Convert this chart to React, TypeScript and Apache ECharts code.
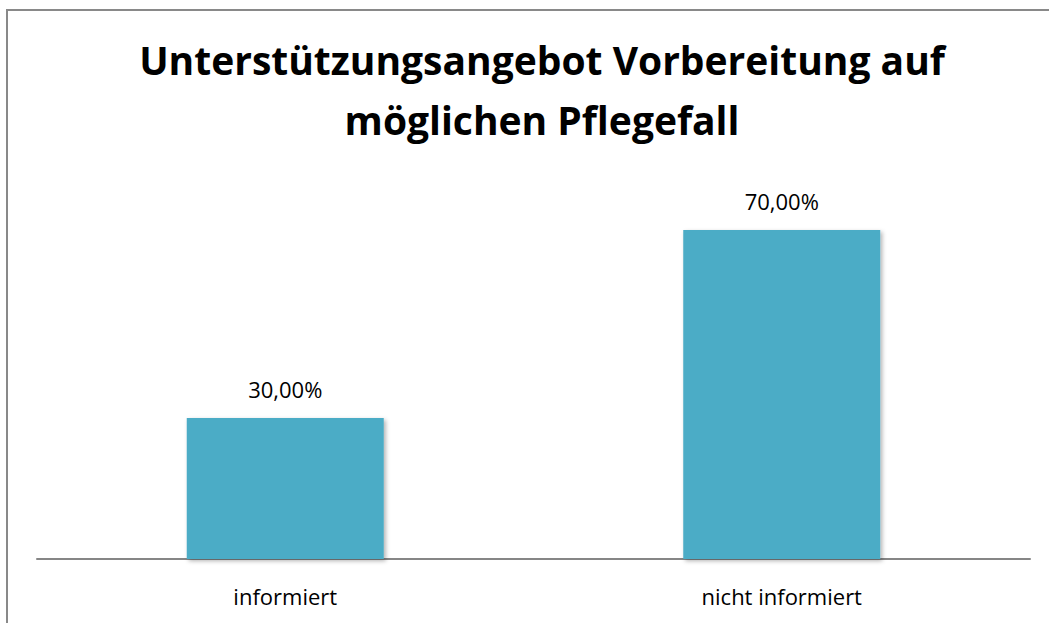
import React, { useEffect, useRef } from "react";
import * as echarts from "echarts";

const titleLines = ["Unterstützungsangebot Vorbereitung auf", "möglichen Pflegefall"];
const categories = ["informiert", "nicht informiert"];
const values = [30, 70];

export default function App() {
  const ref = useRef<HTMLDivElement>(null);
  useEffect(() => {
    document.body.style.margin = "0";
    if (!ref.current) return;
    const chart = echarts.init(ref.current, null, { renderer: "svg" });
    const font = "'Open Sans', 'Noto Sans', sans-serif";
    chart.setOption({
      animation: false,
      backgroundColor: "#ffffff",
      title: {
        text: titleLines.join("\n"),
        left: 537,
        top: 24,
        textAlign: "center",
        textStyle: {
          fontFamily: font,
          fontWeight: "bold",
          fontSize: 39,
          lineHeight: 60,
          color: "#000000",
        },
      },
      graphic: [
        {
          type: "rect",
          shape: { x: 7, y: 10, width: 1200, height: 800 },
          style: { fill: "none", stroke: "#898989", lineWidth: 2 },
          silent: true,
          z: 100,
        },
      ],
      grid: { left: 37, right: 19, top: 183, bottom: 64 },
      xAxis: {
        type: "category",
        data: categories,
        axisLine: { show: true, lineStyle: { color: "#868686", width: 2 } },
        axisTick: { show: false },
        axisLabel: {
          margin: 26,
          fontFamily: font,
          fontSize: 22,
          color: "#000000",
        },
      },
      yAxis: {
        type: "value",
        min: 0,
        max: 80,
        show: false,
        splitLine: { show: false },
      },
      series: [
        {
          type: "bar",
          data: values,
          barWidth: 197,
          itemStyle: {
            color: "#4BACC6",
            shadowColor: "rgba(0,0,0,0.3)",
            shadowBlur: 4,
            shadowOffsetX: 2,
            shadowOffsetY: 2,
          },
          label: {
            show: true,
            position: "top",
            distance: 18,
            fontFamily: font,
            fontSize: 22,
            color: "#000000",
            formatter: (p: any) => p.value.toFixed(2).replace(".", ",") + "%",
          },
        },
      ],
    });
    return () => chart.dispose();
  }, []);
  return <div ref={ref} style={{ width: 1049, height: 623 }} />;
}
